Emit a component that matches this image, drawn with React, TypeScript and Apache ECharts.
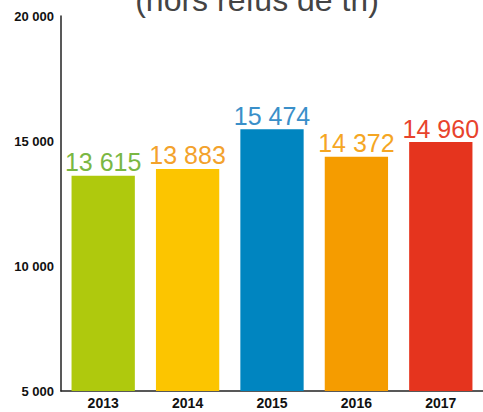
import React, { useEffect, useRef } from "react";
import * as echarts from "echarts";

const years = ["2013", "2014", "2015", "2016", "2017"];
const values = [13615, 13883, 15474, 14372, 14960];
const barColors = ["#afc90d", "#fcc500", "#0085c0", "#f59c00", "#e5341e"];
const labelColors = ["#7ab743", "#f3a22c", "#3a8fc9", "#f5a623", "#e8432c"];
const yTicks = [5000, 10000, 15000, 20000];
const subtitle = "(hors refus de tri)";

const fmt = (v: number) => String(v).replace(/\B(?=(\d{3})+(?!\d))/g, " ");

export default function App() {
  const ref = useRef<HTMLDivElement>(null);
  useEffect(() => {
    if (!ref.current) return;
    const chart = echarts.init(ref.current, null, { renderer: "svg" });
    chart.setOption({
      animation: false,
      textStyle: { fontFamily: "Liberation Sans, Arial, sans-serif" },
      graphic: [
        {
          type: "text",
          x: 257,
          y: 16,
          style: {
            text: subtitle,
            fontSize: 32,
            fill: "#444444",
            fontFamily: "Liberation Sans, Arial, sans-serif",
            align: "center",
            verticalAlign: "bottom",
          },
        },
      ],
      grid: { left: 61, right: 0, top: 16, bottom: 21, containLabel: false },
      xAxis: {
        type: "category",
        data: years,
        axisLine: { show: true, lineStyle: { color: "#222", width: 1.5 } },
        axisTick: { show: false },
        axisLabel: { color: "#111", fontWeight: "bold", fontSize: 14, margin: 5 },
      },
      yAxis: {
        type: "value",
        min: yTicks[0],
        max: yTicks[yTicks.length - 1],
        interval: 5000,
        axisLine: { show: true, lineStyle: { color: "#222", width: 1.5 } },
        axisTick: { show: false },
        splitLine: { show: false },
        axisLabel: {
          color: "#111",
          fontWeight: "bold",
          fontSize: 13,
          margin: 7,
          formatter: (v: number) => fmt(v),
        },
      },
      series: [
        {
          type: "bar",
          barWidth: "75%",
          data: values.map((v, i) => ({
            value: v,
            itemStyle: { color: barColors[i] },
            label: { color: labelColors[i] },
          })),
          label: {
            show: true,
            position: "top",
            distance: 1,
            fontSize: 25,
            formatter: (p: any) => fmt(p.value),
          },
        },
      ],
    });
    return () => chart.dispose();
  }, []);
  return (
    <div
      ref={ref}
      style={{ position: "absolute", left: 0, top: 0, width: 483, height: 412 }}
    />
  );
}
